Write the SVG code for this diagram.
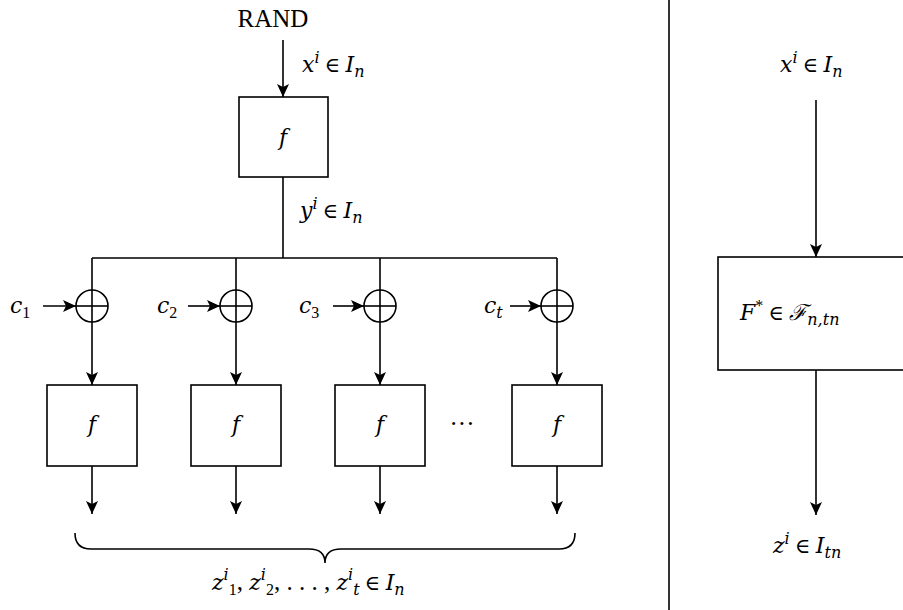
<svg xmlns="http://www.w3.org/2000/svg" width="903" height="610" viewBox="0 0 903 610">
<style>
.ln{stroke:#000;stroke-width:1.6;fill:none}
.bx{stroke:#000;stroke-width:1.6;fill:#fff}
.t{font-family:"Liberation Serif","DejaVu Serif",serif;font-size:25px;fill:#000}
.i{font-family:"DejaVu Serif","Liberation Serif",serif;font-style:italic;font-size:22px}
.s{font-size:16px}
.e{font-size:21px}
</style>
<defs>
<marker id="ah" markerUnits="userSpaceOnUse" markerWidth="14" markerHeight="12" refX="13" refY="6" orient="auto">
<path d="M0,0 L13,6 L0,12 L3,6 Z" fill="#000"/>
</marker>
</defs>
<g id="connectors">
<line class="ln" x1="283" y1="40" x2="283" y2="97" marker-end="url(#ah)"/>
<line class="ln" x1="283" y1="177" x2="283" y2="258"/>
<line class="ln" x1="92" y1="258" x2="557" y2="258"/>
<line class="ln" x1="92" y1="258" x2="92" y2="385" marker-end="url(#ah)"/>
<line class="ln" x1="236" y1="258" x2="236" y2="385" marker-end="url(#ah)"/>
<line class="ln" x1="380" y1="258" x2="380" y2="385" marker-end="url(#ah)"/>
<line class="ln" x1="557" y1="258" x2="557" y2="385" marker-end="url(#ah)"/>
<line class="ln" x1="43" y1="306" x2="76" y2="306" marker-end="url(#ah)"/>
<line class="ln" x1="188" y1="306" x2="220" y2="306" marker-end="url(#ah)"/>
<line class="ln" x1="333" y1="306" x2="364" y2="306" marker-end="url(#ah)"/>
<line class="ln" x1="510" y1="306" x2="541" y2="306" marker-end="url(#ah)"/>
<line class="ln" x1="92" y1="466" x2="92" y2="514" marker-end="url(#ah)"/>
<line class="ln" x1="236" y1="466" x2="236" y2="514" marker-end="url(#ah)"/>
<line class="ln" x1="380" y1="466" x2="380" y2="514" marker-end="url(#ah)"/>
<line class="ln" x1="557" y1="466" x2="557" y2="514" marker-end="url(#ah)"/>
<line class="ln" x1="816" y1="100" x2="816" y2="257" marker-end="url(#ah)"/>
<line class="ln" x1="816" y1="370" x2="816" y2="515" marker-end="url(#ah)"/>
<path class="ln" d="M75,533 Q75,549 91,549 L309,549 Q325,549 325,563 Q325,549 341,549 L559,549 Q575,549 575,533"/>
<line class="ln" x1="669" y1="0" x2="669" y2="610"/>
</g>
<g id="rand"><text class="t" x="273" y="27" text-anchor="middle">RAND</text></g>
<g id="label-x-left"><text class="t" x="302" y="72"><tspan class="i">x</tspan><tspan class="i s" dy="-9">i</tspan><tspan class="e" dy="9"> ∈ </tspan><tspan class="i">I</tspan><tspan class="i s" dy="5">n</tspan></text></g>
<g id="f0"><rect class="bx" x="239" y="97" width="89" height="80"/><text class="t i" x="283" y="145" text-anchor="middle">f</text></g>
<g id="label-y"><text class="t" x="300" y="218"><tspan class="i">y</tspan><tspan class="i s" dy="-9">i</tspan><tspan class="e" dy="9"> ∈ </tspan><tspan class="i">I</tspan><tspan class="i s" dy="5">n</tspan></text></g>
<g id="xor1"><circle class="ln" cx="92" cy="306" r="16"/><line class="ln" x1="76" y1="306" x2="108" y2="306"/><text class="t" x="10" y="313"><tspan class="i">c</tspan><tspan class="s" dy="5">1</tspan></text></g>
<g id="xor2"><circle class="ln" cx="236" cy="306" r="16"/><line class="ln" x1="220" y1="306" x2="252" y2="306"/><text class="t" x="157" y="313"><tspan class="i">c</tspan><tspan class="s" dy="5">2</tspan></text></g>
<g id="xor3"><circle class="ln" cx="380" cy="306" r="16"/><line class="ln" x1="364" y1="306" x2="396" y2="306"/><text class="t" x="299" y="313"><tspan class="i">c</tspan><tspan class="s" dy="5">3</tspan></text></g>
<g id="xort"><circle class="ln" cx="557" cy="306" r="16"/><line class="ln" x1="541" y1="306" x2="573" y2="306"/><text class="t" x="484" y="313"><tspan class="i">c</tspan><tspan class="i s" dy="5">t</tspan></text></g>
<g id="f1"><rect class="bx" x="47" y="385" width="90" height="81"/><text class="t i" x="92" y="432" text-anchor="middle">f</text></g>
<g id="f2"><rect class="bx" x="191" y="385" width="90" height="81"/><text class="t i" x="236" y="432" text-anchor="middle">f</text></g>
<g id="f3"><rect class="bx" x="335" y="385" width="90" height="81"/><text class="t i" x="380" y="432" text-anchor="middle">f</text></g>
<g id="ft"><rect class="bx" x="512" y="385" width="90" height="81"/><text class="t i" x="557" y="432" text-anchor="middle">f</text></g>
<g id="dots"><text class="t" x="462" y="432" text-anchor="middle">···</text></g>
<g id="label-z-left"><text class="t" x="212" y="590"><tspan class="i">z</tspan><tspan class="i s" dy="-10">i</tspan><tspan class="s" dy="15">1</tspan><tspan dy="-5">, </tspan><tspan class="i">z</tspan><tspan class="i s" dy="-10">i</tspan><tspan class="s" dy="15">2</tspan><tspan dy="-5">, . . . , </tspan><tspan class="i">z</tspan><tspan class="i s" dy="-10">i</tspan><tspan class="i s" dy="15">t</tspan><tspan class="e" dy="-5"> ∈ </tspan><tspan class="i">I</tspan><tspan class="i s" dy="5">n</tspan></text></g>
<g id="label-x-right"><text class="t" x="780" y="72"><tspan class="i">x</tspan><tspan class="i s" dy="-9">i</tspan><tspan class="e" dy="9"> ∈ </tspan><tspan class="i">I</tspan><tspan class="i s" dy="5">n</tspan></text></g>
<g id="Fstar"><rect class="bx" x="718" y="257" width="200" height="113"/><text class="t" x="740" y="320"><tspan class="i">F</tspan><tspan class="s" dy="-9">*</tspan><tspan class="e" dy="9"> ∈ </tspan><tspan class="i">ℱ</tspan><tspan class="i s" dy="5">n,tn</tspan></text></g>
<g id="label-z-right"><text class="t" x="773" y="553"><tspan class="i">z</tspan><tspan class="i s" dy="-9">i</tspan><tspan class="e" dy="9"> ∈ </tspan><tspan class="i">I</tspan><tspan class="i s" dy="5">tn</tspan></text></g>
</svg>
